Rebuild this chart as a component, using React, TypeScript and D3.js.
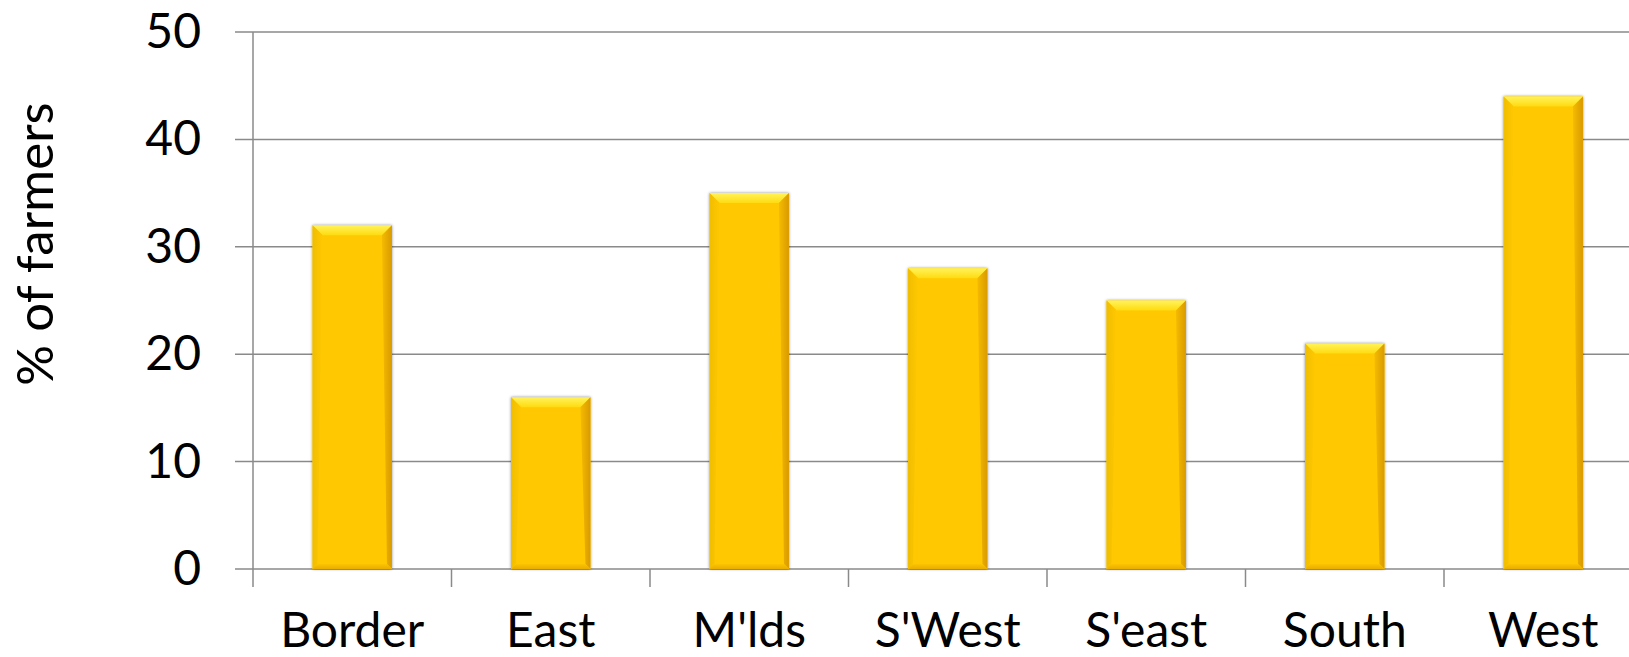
import React from "react";
import * as d3 from "d3";

const categories = ["Border", "East", "M'lds", "S'West", "S'east", "South", "West"];
const values = [32, 16, 35, 28, 25, 21, 44];
const yTicks = [0, 10, 20, 30, 40, 50];
const yTitle = "% of farmers";

const W = 1629;
const H = 657;

export default function App() {
  const left = 253;
  const step = 198.5;
  const x = d3
    .scaleBand<string>()
    .domain(categories)
    .range([left, left + step * categories.length])
    .paddingInner(0.6)
    .paddingOuter(0.3);
  const y = d3.scaleLinear().domain([0, 50]).range([569, 32]);
  const bw = x.bandwidth();
  const bev = 10;
  const font = "Lato, 'Open Sans', sans-serif";
  const grid = "#8a8a8a";

  return (
    <svg
      width={W}
      height={H}
      style={{ position: "absolute", left: 0, top: 0, background: "#fff" }}
    >
      <defs>
        <linearGradient id="topBev" x1="0" y1="0" x2="0" y2="1">
          <stop offset="0" stopColor="#fff35a" />
          <stop offset="1" stopColor="#ffdb10" />
        </linearGradient>
        <linearGradient id="rightBev" x1="0" y1="0" x2="1" y2="0">
          <stop offset="0" stopColor="#f5bb00" />
          <stop offset="1" stopColor="#d99a00" />
        </linearGradient>
        <linearGradient id="leftBev" x1="0" y1="0" x2="1" y2="0">
          <stop offset="0" stopColor="#f0bd00" />
          <stop offset="1" stopColor="#ffc800" />
        </linearGradient>
        <linearGradient id="botBev" x1="0" y1="0" x2="0" y2="1">
          <stop offset="0" stopColor="#fcc400" />
          <stop offset="1" stopColor="#e8ad00" />
        </linearGradient>
        <filter id="shadow" x="-20%" y="-5%" width="140%" height="110%">
          <feDropShadow dx="0" dy="0" stdDeviation="1.5" floodColor="#000" floodOpacity="0.45" />
        </filter>
      </defs>

      {/* gridlines */}
      {yTicks.map((t) => (
        <line
          key={"g" + t}
          x1={left - 18}
          x2={W}
          y1={y(t)}
          y2={y(t)}
          stroke={grid}
          strokeWidth={1.5}
        />
      ))}
      {/* y axis line */}
      <line x1={left} x2={left} y1={y(50)} y2={y(0) + 18} stroke={grid} strokeWidth={1.5} />
      {/* category ticks */}
      {categories.map((c, i) => (
        <line
          key={"t" + c}
          x1={left + step * (i + 1)}
          x2={left + step * (i + 1)}
          y1={y(0)}
          y2={y(0) + 18}
          stroke={grid}
          strokeWidth={1.5}
        />
      ))}

      {/* y tick labels */}
      {yTicks.map((t) => (
        <text
          key={"l" + t}
          x={201}
          y={y(t) + 16}
          textAnchor="end"
          fontFamily={font}
          fontSize={48}
          fill="#000"
        >
          {t}
        </text>
      ))}

      {/* y title */}
      <text
        transform={`translate(53, ${244}) rotate(-90)`}
        textAnchor="middle"
        fontFamily={font}
        fontSize={51}
        fill="#000"
      >
        {yTitle}
      </text>

      {/* bars */}
      {categories.map((c, i) => {
        const bx = x(c)!;
        const by = y(values[i]);
        const bh = y(0) - by;
        return (
          <g key={"b" + c}>
            <rect x={bx} y={by} width={bw} height={bh} fill="#ffc805" filter="url(#shadow)" />
            <polygon
              points={`${bx},${by} ${bx + bw},${by} ${bx + bw - bev},${by + bev} ${bx + bev},${by + bev}`}
              fill="url(#topBev)"
            />
            <polygon
              points={`${bx + bw},${by} ${bx + bw},${by + bh} ${bx + bw - 5},${by + bh - 5} ${bx + bw - bev},${by + bev}`}
              fill="url(#rightBev)"
            />
            <polygon
              points={`${bx},${by} ${bx + bev},${by + bev} ${bx + 5},${by + bh - 5} ${bx},${by + bh}`}
              fill="url(#leftBev)"
            />
            <polygon
              points={`${bx},${by + bh} ${bx + 5},${by + bh - 5} ${bx + bw - 5},${by + bh - 5} ${bx + bw},${by + bh}`}
              fill="url(#botBev)"
            />
          </g>
        );
      })}

      {/* category labels */}
      {categories.map((c) => (
        <text
          key={"c" + c}
          x={x(c)! + bw / 2}
          y={647}
          textAnchor="middle"
          fontFamily={font}
          fontSize={48}
          fill="#000"
        >
          {c}
        </text>
      ))}
    </svg>
  );
}
